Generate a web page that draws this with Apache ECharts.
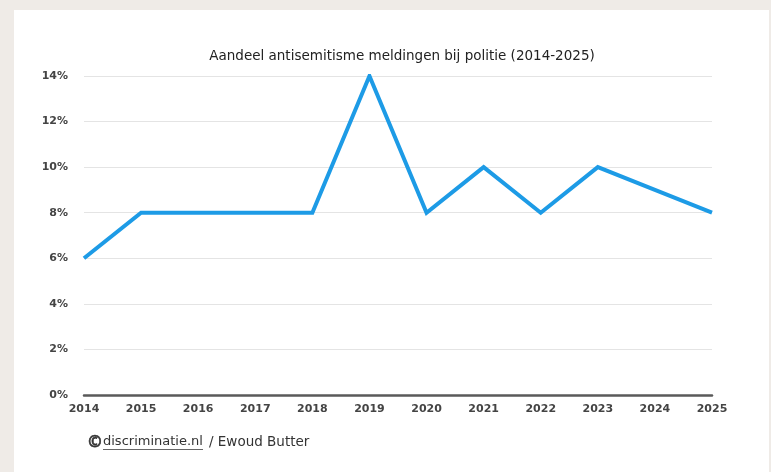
<!DOCTYPE html>
<html><head><meta charset="utf-8">
<script src="https://cdn.jsdelivr.net/npm/echarts@6/dist/echarts.min.js"></script>
<style>html,body{margin:0;padding:0;background:#efebe7;}#c{width:771px;height:472px;}</style>
</head><body><div id="c"></div>
<script>
const years = ['2014','2015','2016','2017','2018','2019','2020','2021','2022','2023','2024','2025'];
const shares = [6, 8, 8, 8, 8, 14, 8, 10, 8, 10, 9, 8];
const titleText = 'Aandeel antisemitisme meldingen bij politie (2014-2025)';
const creditLink = 'discriminatie.nl';
const creditRest = '/ Ewoud Butter';

const FONT = '"DejaVu Sans", Verdana, sans-serif';
const chart = echarts.init(document.getElementById('c'), null, {renderer:'canvas'});
chart.setOption({
  backgroundColor: '#efebe7',
  animation: false,
  graphic: [
    {type:'rect', left:14, top:10, shape:{width:755, height:470}, style:{fill:'#ffffff'}, z:-10},
    {type:'text', left:88, top:434, style:{text:'©', font:'bold 16px "Noto Sans", "Liberation Sans", sans-serif', fill:'#333', stroke:'#333', lineWidth:0.6}},
    {type:'text', left:103, top:435, style:{text:creditLink, font:'13px ' + FONT, fill:'#333'}},
    {type:'rect', left:103, top:449, shape:{width:100, height:1}, style:{fill:'#666'}},
    {type:'text', left:209, top:435, style:{text:creditRest, font:'13.5px ' + FONT, fill:'#333'}}
  ],
  title: {
    text: titleText, left: 397, top: 44, textAlign: 'center',
    textStyle: {fontSize: 13.5, fontWeight: 'normal', color: '#222', fontFamily: FONT}
  },
  grid: {left: 84, right: 59, top: 76, bottom: 77},
  xAxis: {
    type: 'category', data: years, boundaryGap: false,
    axisLine: {show: true, lineStyle: {color: '#5a5a5a', width: 2.5}},
    axisTick: {show: false},
    axisLabel: {color: '#444', fontSize: 11, fontWeight: 'bold', margin: 9, fontFamily: FONT},
    splitLine: {show: false}
  },
  yAxis: {
    type: 'value', min: 0, max: 14, interval: 2,
    axisLine: {show: false}, axisTick: {show: false},
    axisLabel: {formatter: '{value}%', color: '#444', fontSize: 11, fontWeight: 'bold', margin: 16, fontFamily: FONT},
    splitLine: {lineStyle: {color: '#e4e4e4', width: 1}}
  },
  series: [{
    type: 'line', data: shares, showSymbol: false, symbol: 'none',
    lineStyle: {color: '#1d9be6', width: 4, join: 'miter'},
    z: 5
  }]
});
</script></body></html>
